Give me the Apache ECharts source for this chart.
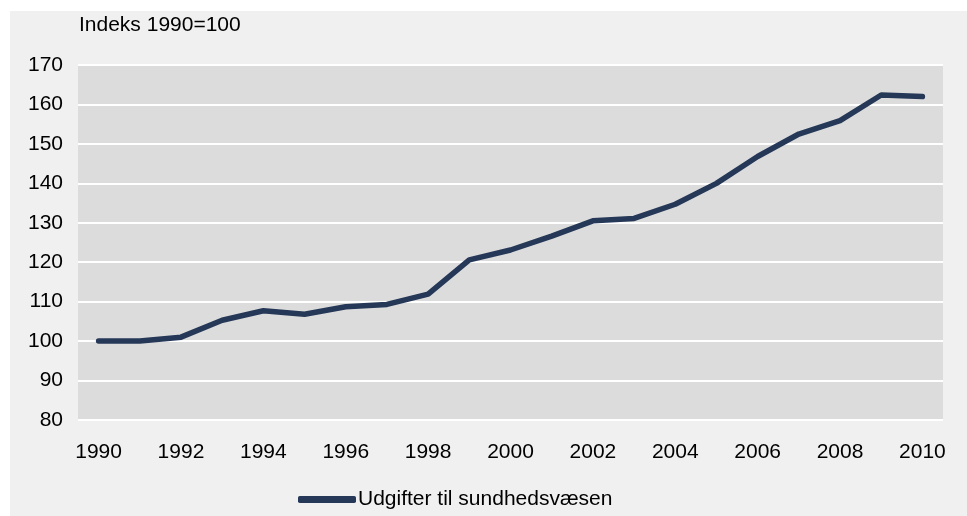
<!DOCTYPE html>
<html>
<head>
<meta charset="utf-8">
<script src="https://cdn.jsdelivr.net/npm/echarts@6/dist/echarts.min.js"></script>
<style>
  html, body { margin: 0; padding: 0; background: #ffffff; }
  #wrap { position: relative; width: 967px; height: 516px; overflow: hidden; }
  #panel { position: absolute; left: 10px; top: 11px; right: 0; bottom: 0; background: #f0f0f0; }
  #chart { position: absolute; left: 0; top: 0; width: 967px; height: 516px; }
</style>
</head>
<body>
<div id="wrap">
  <div id="panel"></div>
  <div id="chart"></div>
</div>
<script>
const years = ['1990','1991','1992','1993','1994','1995','1996','1997','1998','1999','2000',
               '2001','2002','2003','2004','2005','2006','2007','2008','2009','2010'];
const healthSpending = [100.0, 100.0, 101.0, 105.3, 107.7, 106.8, 108.7, 109.3, 111.9, 120.6, 123.1,
                        126.6, 130.5, 131.1, 134.7, 140.0, 146.8, 152.5, 155.9, 162.4, 162.0];
const seriesName = 'Udgifter til sundhedsvæsen';
const yAxisTitle = 'Indeks 1990=100';

const FONT = '"Liberation Sans", Arial, sans-serif';
const LINE_COLOR = '#253858';
const chart = echarts.init(document.getElementById('chart'), null, { renderer: 'canvas' });
chart.setOption({
  backgroundColor: 'transparent',
  animation: false,
  textStyle: { fontFamily: FONT },
  grid: {
    left: 78, right: 24, top: 65, bottom: 96,
    show: true, backgroundColor: '#dcdcdc', borderWidth: 0
  },
  graphic: [{
    type: 'text', left: 79, top: 15,
    style: { text: yAxisTitle, fontSize: 21, fontFamily: FONT, fill: '#000' }
  }],
  legend: {
    left: 293, top: 484,
    icon: 'roundRect',
    itemWidth: 58, itemHeight: 7, itemGap: 10,
    itemStyle: { color: LINE_COLOR },
    textStyle: { fontSize: 21, color: '#000', fontFamily: FONT, padding: [0, 0, 0, -3] },
    data: [seriesName]
  },
  xAxis: {
    type: 'category',
    data: years,
    boundaryGap: true,
    axisLine: { show: false },
    axisTick: { show: false },
    axisLabel: { interval: 1, fontSize: 21, color: '#000', margin: 22, fontFamily: FONT },
    splitLine: { show: false }
  },
  yAxis: {
    type: 'value',
    min: 80, max: 170, interval: 10,
    axisLine: { show: false },
    axisTick: { show: false },
    axisLabel: { fontSize: 21, color: '#000', margin: 15, fontFamily: FONT },
    splitLine: { show: true, lineStyle: { color: '#ffffff', width: 2 } }
  },
  series: [{
    name: seriesName,
    type: 'line',
    data: healthSpending,
    symbol: 'none',
    lineStyle: { color: LINE_COLOR, width: 5.5, cap: 'round', join: 'round' },
    itemStyle: { color: LINE_COLOR }
  }]
});
</script>
</body>
</html>
